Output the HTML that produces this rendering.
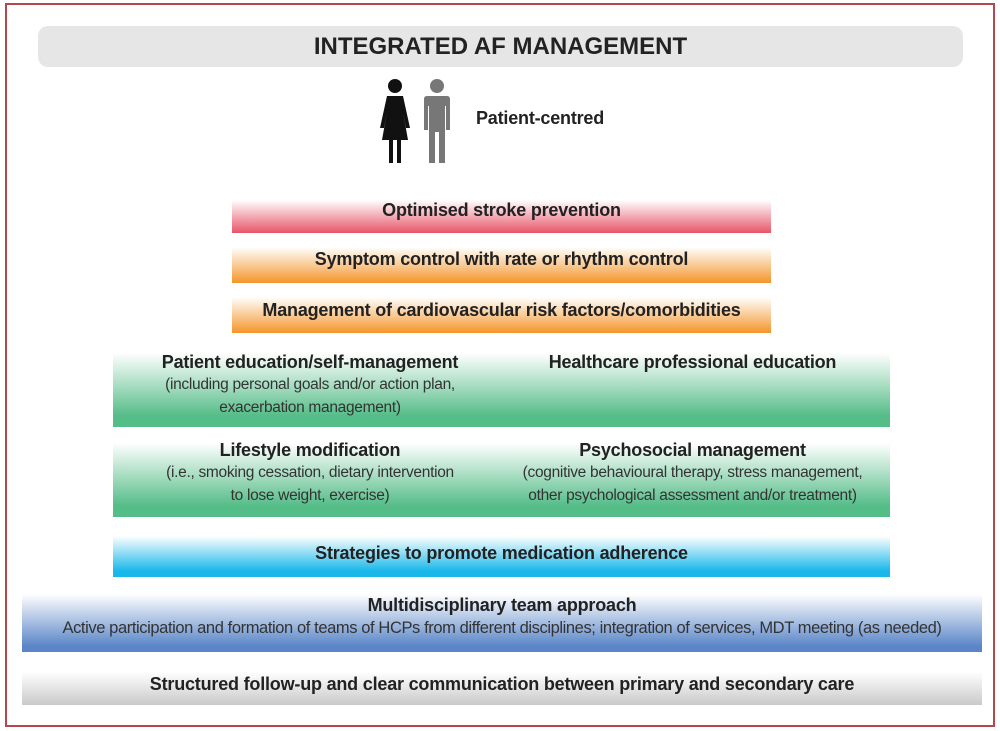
<!DOCTYPE html>
<html><head><meta charset="utf-8"><style>
body{margin:0;width:1000px;height:731px;background:#fff;font-family:"Liberation Sans",sans-serif;color:#222;position:relative;overflow:hidden}
.a{position:absolute;box-sizing:border-box;text-align:center;white-space:nowrap}
.t{font-size:18px;font-weight:bold;letter-spacing:-0.2px}
.s{font-size:15.5px;letter-spacing:-0.3px;color:#333;line-height:23px}
</style></head><body>
<div class="a" style="left:5px;top:3px;width:990px;height:724px;border:2px solid #b5474f"></div>
<div class="a" style="left:38px;top:26px;width:925px;height:41px;background:#e6e6e6;border-radius:10px;font-size:24px;font-weight:bold;line-height:41px;color:#222">INTEGRATED AF MANAGEMENT</div>
<svg class="a" style="left:370px;top:78px" width="90" height="88" viewBox="0 0 90 88">
<circle cx="25" cy="8" r="7" fill="#111"/>
<path d="M17 18 H33 L40 50 L36 50 L33 34 L38 62 H31 V85 H27 V62 H23 V85 H19 V62 H12 L17 34 L14 50 L10 50 Z" fill="#111"/>
<circle cx="67" cy="8" r="7" fill="#777"/>
<path d="M57 18 H77 Q80 18 80 21 V52 H76 V28 H75 V85 H69 V54 H65 V85 H59 V28 H58 V52 H54 V21 Q54 18 57 18 Z" fill="#777"/>
</svg>
<div class="a t" style="left:476px;top:108px;text-align:left">Patient-centred</div>
<div class="a t" style="left:232px;top:200px;width:539px;height:33px;background:linear-gradient(#fff,#e85468);line-height:20px">Optimised stroke prevention</div>
<div class="a t" style="left:232px;top:247px;width:539px;height:36px;background:linear-gradient(#fff,#f4952a);line-height:24px">Symptom control with rate or rhythm control</div>
<div class="a t" style="left:232px;top:297px;width:539px;height:36px;background:linear-gradient(#fff,#f4952a);line-height:26px">Management of cardiovascular risk factors/comorbidities</div>
<div class="a" style="left:113px;top:353px;width:777px;height:74px;background:linear-gradient(#fff,#55bd88 85%)"></div>
<div class="a" style="left:130px;top:352px;width:360px"><div class="t">Patient education/self-management</div><div class="s">(including personal goals and/or action plan,<br>exacerbation management)</div></div>
<div class="a" style="left:510px;top:352px;width:365px"><div class="t">Healthcare professional education</div></div>
<div class="a" style="left:113px;top:443px;width:777px;height:74px;background:linear-gradient(#fff,#55bd88 85%)"></div>
<div class="a" style="left:130px;top:440px;width:360px"><div class="t">Lifestyle modification</div><div class="s">(i.e., smoking cessation, dietary intervention<br>to lose weight, exercise)</div></div>
<div class="a" style="left:500px;top:440px;width:385px"><div class="t">Psychosocial management</div><div class="s">(cognitive behavioural therapy, stress management,<br>other psychological assessment and/or treatment)</div></div>
<div class="a t" style="left:113px;top:536px;width:777px;height:41px;background:linear-gradient(#fff,#1ab8ea 85%);line-height:34px">Strategies to promote medication adherence</div>
<div class="a" style="left:22px;top:594px;width:960px;height:58px;background:linear-gradient(#fff,#5a86c8 90%)"><div class="t" style="margin-top:1px">Multidisciplinary team approach</div><div class="s" style="font-size:16.5px;letter-spacing:-0.4px;line-height:24px">Active participation and formation of teams of HCPs from different disciplines; integration of services, MDT meeting (as needed)</div></div>
<div class="a t" style="left:22px;top:672px;width:960px;height:33px;background:linear-gradient(#fff,#c9c9c9);line-height:24px">Structured follow-up and clear communication between primary and secondary care</div>
</body></html>
